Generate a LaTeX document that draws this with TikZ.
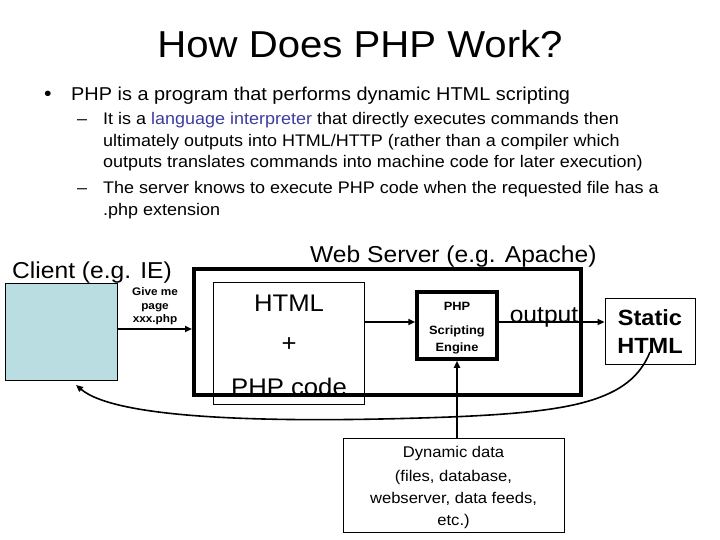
\documentclass[tikz,border=0pt]{standalone}
\usepackage{fontspec}
\setmainfont{Liberation Sans}[FakeStretch=1.07]
\usetikzlibrary{arrows.meta}
\definecolor{clientfill}{RGB}{185,221,225}
\definecolor{linkblue}{RGB}{60,60,160}
\tikzset{
  fs/.style={font=\fontsize{#1}{#1}\selectfont},
  thinbox/.style={draw=black,line width=0.9pt,inner sep=0pt},
  thickbox/.style={draw=black,line width=4pt,inner sep=0pt},
  arr/.style={line width=1.8pt,-{Triangle[length=7pt,width=6pt]}},
  txt/.style={inner sep=0pt,anchor=base west},
}
\begin{document}
\begin{tikzpicture}[x=1pt,y=-1pt]
\useasboundingbox (0,0) rectangle (720,540);
% title and text
\node[fs=37.5,inner sep=0pt,anchor=base] (title) at (360,58) {How Does PHP Work?};
\node[fs=20,txt] (b1) at (44,101) {•};
\node[fs=18.6,txt] (l1) at (71,101) {PHP is a program that performs dynamic HTML scripting};
\node[fs=16.8,txt] (d1) at (77,125) {–};
\node[fs=16.8,txt] (s1) at (103,125) {It is a \textcolor{linkblue}{language interpreter} that directly executes commands then};
\node[fs=16.8,txt] (s2) at (103,147) {ultimately outputs into HTML/HTTP (rather than a compiler which};
\node[fs=16.8,txt] (s3) at (103,168) {outputs translates commands into machine code for later execution)};
\node[fs=16.8,txt] (d2) at (77,194) {–};
\node[fs=16.8,txt] (s4) at (103,194) {The server knows to execute PHP code when the requested file has a};
\node[fs=16.8,txt] (s5) at (103,215) {.php extension};
% labels
\node[fs=23,txt] (clientlbl) at (12,278) {Client (e.g. IE)};
\node[fs=23,txt] (serverlbl) at (310,262) {Web Server (e.g. Apache)};
% boxes
\node[thinbox,fill=clientfill,minimum width=112pt,minimum height=97pt] (client) at (61,331.5) {};
\node[thickbox,minimum width=387pt,minimum height=126pt] (server) at (387.5,332) {};
\node[thinbox,minimum width=151pt,minimum height=122pt] (html) at (288.5,343) {};
\node[thickbox,line width=3.5pt,fill=white,minimum width=80pt,minimum height=67pt] (engine) at (457,325.5) {};
\node[thinbox,minimum width=90pt,minimum height=66pt] (static) at (650,331) {};
\node[thinbox,minimum width=221pt,minimum height=94pt] (dyn) at (453.5,485) {};
% box texts
\node[font=\bfseries\fontsize{11}{13.5}\selectfont,align=center,inner sep=0pt] (req) at (155,306.5) {Give me\\page\\xxx.php};
\node[fs=24,inner sep=0pt] (htmltxt) at (289,303) {HTML};
\node[fs=24,inner sep=0pt] (plus) at (289,345) {+};
\node[fs=24,inner sep=0pt] (phpcode) at (289,387) {PHP code};
\node[font=\bfseries\fontsize{12}{17}\selectfont,align=center,inner sep=0pt] (enginetxt) at (457,328) {PHP\\[7pt]Scripting\\Engine};
\node[fs=23,inner sep=0pt,anchor=base] (output) at (544,322) {output};
\node[font=\bfseries\fontsize{22}{28}\selectfont,align=center,inner sep=0pt] (stattxt) at (650,332) {Static\\HTML};
\node[font=\fontsize{15.5}{22}\selectfont,align=center,inner sep=0pt] (dyntxt) at (453.5,487) {Dynamic data\\[2pt](files, database,\\webserver, data feeds,\\etc.)};
% connectors
\draw[arr] (client.east |- 0,329) -- (server.west |- 0,329);
\draw[arr] ([yshift=3.5pt]engine.west -| html.east) -- ([yshift=3.5pt]engine.west);
\draw[arr] ([yshift=3.5pt]engine.east) -- ([yshift=3.5pt]engine.east -| static.west);
\draw[arr] (engine.south |- dyn.north) -- (engine.south);
\coordinate (cs) at (650,352);
\coordinate (ce) at (76,385);
\draw[arr,line width=1.6pt] (cs) .. controls (630,402) and (570,412) .. (450,417)
  .. controls (260,424) and (115,418) .. (ce);
\end{tikzpicture}
\end{document}
